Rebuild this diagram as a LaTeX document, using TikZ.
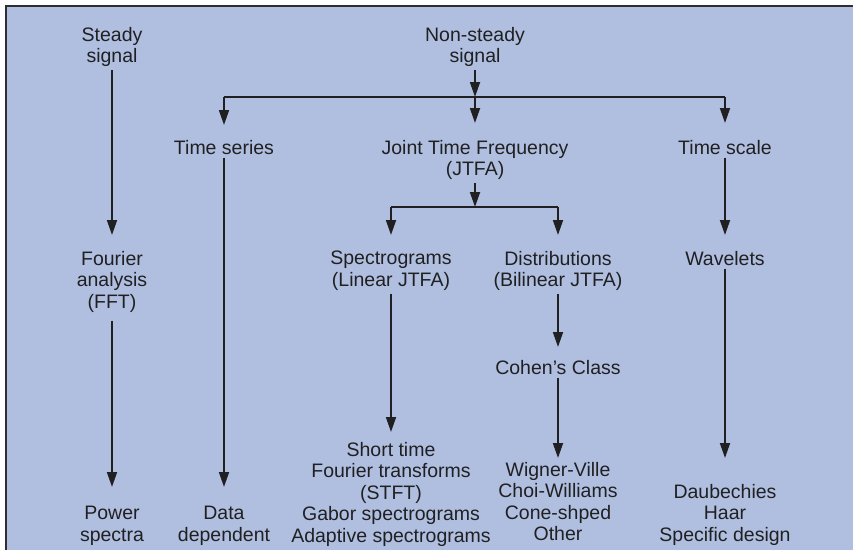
\documentclass[tikz,border=0pt]{standalone}
\usepackage{fontspec}
\setmainfont{Liberation Sans}
\usetikzlibrary{arrows.meta}
\definecolor{bgblue}{RGB}{176,191,224}
\definecolor{ink}{RGB}{32,32,34}
\definecolor{frame}{RGB}{45,45,50}
\begin{document}
\begin{tikzpicture}[x=1pt,y=-1pt,
  lbl/.style={text=ink, align=center, anchor=north, inner sep=3pt,
              font=\fontsize{19.5}{21.5}\selectfont},
  conn/.style={draw=ink, line width=1.8pt, -{Triangle[width=10pt,length=15pt]}},
  plain/.style={draw=ink, line width=1.8pt}]
\useasboundingbox (0,0) rectangle (855,550);
\fill[bgblue] (6,6) rectangle (853,550);
\draw[frame, line width=2.5pt] (6,550) -- (6,6) -- (853,6);

% nodes
\node[lbl] (steady)     at (112,24)  {Steady\\signal};
\node[lbl] (fourier)    at (112,248) {Fourier\\analysis\\(FFT)};
\node[lbl] (power)      at (112,503) {Power\\spectra};
\node[lbl] (nonsteady)  at (475,24)  {Non-steady\\signal};
\node[lbl] (timeseries) at (224,137) {Time series};
\node[lbl] (jtfa)       at (475,137) {Joint Time Frequency\\(JTFA)};
\node[lbl] (timescale)  at (725,137) {Time scale};
\node[lbl] (datadep)    at (224,503) {Data\\dependent};
\node[lbl] (spectro)    at (391,248) {Spectrograms\\(Linear JTFA)};
\node[lbl] (distrib)    at (558,248) {Distributions\\(Bilinear JTFA)};
\node[lbl] (wavelets)   at (725,248) {Wavelets};
\node[lbl] (cohen)      at (558,357) {Cohen's Class};
\node[lbl] (stft)       at (391,439) {Short time\\Fourier transforms\\(STFT)\\Gabor spectrograms\\Adaptive spectrograms};
\node[lbl] (wigner)     at (558,459) {Wigner-Ville\\Choi-Williams\\Cone-shped\\Other};
\node[lbl] (daub)       at (725,481) {Daubechies\\Haar\\Specific design};

\coordinate (j1) at (475,97);
\coordinate (j2) at (475,207);

% connectors
\draw[conn, shorten >=13pt] (steady) -- (fourier);
\draw[conn, shorten >=16pt, shorten <=5pt] (fourier) -- (power);
\draw[conn] (nonsteady) -- (j1);
\draw[plain] (j1 -| timeseries) -- (j1 -| timescale);
\draw[conn, shorten >=12pt] (j1 -| timeseries) -- (timeseries);
\draw[conn, shorten >=14pt] (j1) -- (jtfa);
\draw[conn, shorten >=14pt] (j1 -| timescale) -- (timescale);
\draw[conn, shorten >=16pt] (timeseries) -- (datadep);
\draw[conn] (jtfa) -- (j2);
\draw[plain] (j2 -| spectro) -- (j2 -| distrib);
\draw[conn, shorten >=13pt] (j2 -| spectro) -- (spectro);
\draw[conn, shorten >=13pt] (j2 -| distrib) -- (distrib);
\draw[conn, shorten >=7pt] (spectro) -- (stft);
\draw[conn, shorten >=10pt] (distrib) -- (cohen);
\draw[conn, shorten >=1pt] (cohen) -- (wigner);
\draw[conn, shorten >=13pt] (timescale) -- (wavelets);
\draw[conn, shorten >=23pt] (wavelets) -- (daub);
\end{tikzpicture}
\end{document}
